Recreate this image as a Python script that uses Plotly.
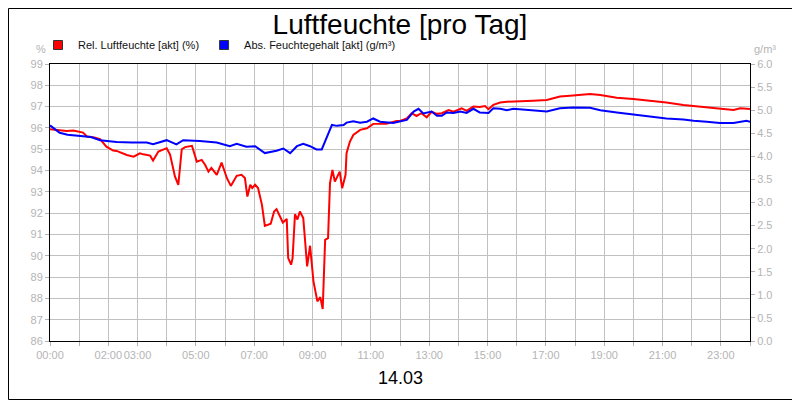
import plotly.graph_objects as go

# Time of day (HH:MM) and readings
rel_times = ["00:00", "00:20", "00:34", "00:48", "01:02", "01:08", "01:16", "01:29", "01:43", "01:56",
             "02:10", "02:17", "02:38", "02:52", "03:05", "03:12", "03:26", "03:32", "03:43", "03:53",
             "04:00", "04:07", "04:17", "04:24", "04:31", "04:38", "04:52", "05:02", "05:12", "05:19",
             "05:26", "05:32", "05:43", "05:53", "06:04", "06:12", "06:24", "06:34", "06:41", "06:46",
             "06:52", "06:56", "07:02", "07:08", "07:16", "07:22", "07:34", "07:41", "07:46", "07:59",
             "08:07", "08:10", "08:16", "08:19", "08:24", "08:29", "08:34", "08:41", "08:49", "08:55",
             "09:02", "09:10", "09:16", "09:21", "09:26", "09:32", "09:36", "09:41", "09:46", "09:56",
             "10:01", "10:08", "10:10", "10:17", "10:24", "10:38", "10:52", "11:05", "11:32", "11:53",
             "12:00", "12:14", "12:24", "12:34", "12:44", "12:55", "13:05", "13:16", "13:26", "13:40",
             "13:50", "14:07", "14:17", "14:31", "14:44", "14:55", "15:02", "15:12", "15:26", "15:40",
             "16:07", "16:34", "17:02", "17:29", "17:56", "18:31", "18:52", "19:26", "20:00", "20:34",
             "21:08", "21:43", "22:17", "22:52", "23:26", "23:40", "24:00"]
rel_humidity = [95.94, 95.90, 95.86, 95.88, 95.80, 95.78, 95.60, 95.56, 95.47, 95.12,
                94.94, 94.92, 94.73, 94.65, 94.81, 94.76, 94.70, 94.47, 94.89, 94.97,
                95.05, 94.75, 93.72, 93.33, 95.00, 95.10, 95.16, 94.42, 94.50, 94.27,
                93.95, 94.12, 93.80, 94.37, 93.64, 93.28, 93.75, 93.80, 93.65, 92.78,
                93.33, 93.18, 93.33, 93.18, 92.39, 91.40, 91.50, 92.08, 92.19, 91.56,
                91.73, 89.89, 89.58, 89.89, 91.95, 91.70, 92.08, 91.77, 89.50, 90.47,
                88.80, 87.86, 88.06, 87.50, 90.75, 90.83, 93.41, 94.03, 93.48, 93.95,
                93.17, 93.80, 94.81, 95.36, 95.67, 95.91, 95.98, 96.19, 96.20, 96.33,
                96.33, 96.45, 96.69, 96.56, 96.69, 96.50, 96.76, 96.66, 96.69, 96.84,
                96.76, 96.92, 96.80, 97.00, 96.98, 97.03, 96.88, 97.08, 97.19, 97.23,
                97.27, 97.28, 97.31, 97.47, 97.52, 97.59, 97.55, 97.42, 97.36, 97.28,
                97.19, 97.08, 97.00, 96.89, 96.84, 96.92, 96.89]

abs_times = ["00:00", "00:20", "00:36", "01:02", "01:24", "01:43", "02:17", "02:48", "03:19", "03:32",
             "04:00", "04:20", "04:34", "05:08", "05:43", "06:10", "06:24", "06:44", "07:02", "07:22",
             "07:46", "08:00", "08:14", "08:28", "08:41", "08:55", "09:08", "09:19", "09:29", "09:40",
             "09:50", "10:04", "10:10", "10:24", "10:38", "10:52", "11:05", "11:19", "11:46", "12:00",
             "12:14", "12:28", "12:38", "12:48", "13:05", "13:16", "13:26", "13:36", "13:50", "14:04",
             "14:17", "14:31", "14:44", "15:02", "15:12", "15:26", "15:40", "15:53", "16:07", "16:34",
             "17:02", "17:29", "17:56", "18:31", "18:52", "19:26", "20:00", "20:34", "21:08", "21:43",
             "22:04", "22:31", "22:58", "23:26", "23:53", "24:00"]
abs_humidity = [4.67, 4.51, 4.47, 4.44, 4.42, 4.35, 4.31, 4.30, 4.30, 4.26,
                4.35, 4.26, 4.35, 4.33, 4.30, 4.22, 4.27, 4.21, 4.22, 4.07,
                4.12, 4.17, 4.07, 4.22, 4.27, 4.22, 4.15, 4.15, 4.39, 4.68,
                4.66, 4.68, 4.73, 4.76, 4.73, 4.75, 4.82, 4.75, 4.72, 4.75,
                4.79, 4.97, 5.03, 4.93, 4.97, 4.88, 4.88, 4.95, 4.94, 4.97,
                4.94, 5.03, 4.95, 4.94, 5.04, 5.03, 5.00, 5.03, 5.02, 5.00,
                4.97, 5.04, 5.06, 5.05, 5.00, 4.95, 4.91, 4.86, 4.82, 4.80,
                4.77, 4.75, 4.72, 4.72, 4.77, 4.75]

# hours that get a label on the x axis (as in the original)
labelled_hours = [0, 2, 3, 5, 7, 9, 11, 13, 15, 17, 19, 21, 23]
day_label = "14.03"


def to_hours(t):
    h, m = t.split(":")
    return int(h) + int(m) / 60


grey = "#b4b4b4"
grid = "#c0c0c0"
font_family = "Arial, Liberation Sans, sans-serif"

# the page puts the figure 8px in from the top-left corner, so pull everything back by that much
off = 8
ml, mt = 50 - off, 64 - off
mr, mb = 800 - 750 + off, 400 - 341 + off
pw, ph = 800 - ml - mr, 400 - mt - mb

fig = go.Figure()

fig.add_trace(go.Scatter(
    x=[to_hours(t) for t in rel_times], y=rel_humidity,
    mode="lines", line=dict(color="#ff0000", width=2),
    name="Rel. Luftfeuchte [akt] (%)", showlegend=False))
fig.add_trace(go.Scatter(
    x=[to_hours(t) for t in abs_times], y=abs_humidity, yaxis="y2",
    mode="lines", line=dict(color="#0000ff", width=2),
    name="Abs. Feuchtegehalt [akt] (g/m³)", showlegend=False))

# square legend entries
for name, col in [("Rel. Luftfeuchte [akt] (%)", "#ff0000"),
                  ("Abs. Feuchtegehalt [akt] (g/m³)", "#0000ff")]:
    fig.add_trace(go.Scatter(
        x=[None], y=[None], mode="markers", name=name,
        marker=dict(symbol="square", size=9, color=col, line=dict(color="#333333", width=1))))

fig.update_layout(
    width=800, height=400,
    margin=dict(l=ml, r=mr, t=mt, b=mb, autoexpand=False),
    paper_bgcolor="white", plot_bgcolor="white",
    font=dict(family=font_family, size=11, color=grey),
    title=dict(text="Luftfeuchte [pro Tag]", xref="container", yref="container",
               x=(400 - off) / 800, xanchor="center",
               y=1 - 6 / 400, yanchor="top", pad=dict(t=0, b=0),
               font=dict(size=28, color="black", family=font_family)),
    legend=dict(orientation="h", x=-12 / pw, xanchor="left", y=1 + 19 / ph, yanchor="middle",
                font=dict(size=11, color="#111111"), bgcolor="rgba(0,0,0,0)",
                itemwidth=30, tracegroupgap=0),
    xaxis=dict(range=[0, 24], tickvals=list(range(25)),
               ticktext=[f"{h:02d}:00" if h in labelled_hours else "" for h in range(25)],
               tickangle=0,
               showgrid=True, gridcolor=grid, gridwidth=1,
               ticks="outside", ticklen=4, tickcolor=grey,
               showline=True, linecolor="black", linewidth=1, mirror=True,
               zeroline=False, fixedrange=True),
    yaxis=dict(range=[86, 99], dtick=1, tick0=86,
               showgrid=True, gridcolor=grid, gridwidth=1,
               ticks="outside", ticklen=4, tickcolor=grey,
               showline=True, linecolor="black", linewidth=1, mirror=True,
               zeroline=False, fixedrange=True),
    yaxis2=dict(range=[0, 6], dtick=0.5, tick0=0, tickformat=".1f",
                overlaying="y", side="right", showgrid=False,
                ticks="outside", ticklen=4, tickcolor=grey,
                showline=True, linecolor="black", linewidth=1,
                zeroline=False, fixedrange=True),
    annotations=[
        dict(text="%", xref="paper", yref="paper", x=-2 / pw, y=1 + 15 / ph,
             xanchor="right", yanchor="middle", showarrow=False,
             font=dict(size=11, color=grey)),
        dict(text="g/m³", xref="paper", yref="paper", x=1 + 2 / pw, y=1 + 15 / ph,
             xanchor="left", yanchor="middle", showarrow=False,
             font=dict(size=11, color=grey)),
        dict(text=day_label, xref="paper", yref="paper", x=0.5, y=-37 / ph,
             xanchor="center", yanchor="middle", showarrow=False,
             font=dict(size=18, color="black")),
    ],
    # outer frame of the picture
    shapes=[dict(type="rect", xref="paper", yref="paper",
                 x0=-(ml - 0.5) / pw, x1=1 + (mr - off - 0.5) / pw,
                 y0=-(mb - off - 0.5) / ph, y1=1 + (mt - 0.5) / ph,
                 line=dict(color="black", width=1))],
)

fig.write_html("out.html")
